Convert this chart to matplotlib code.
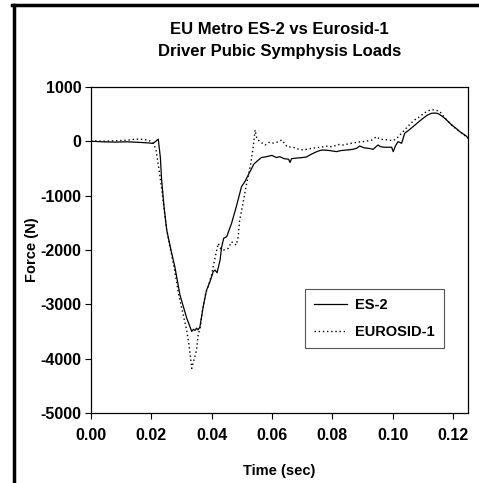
import matplotlib
matplotlib.use("Agg")
import matplotlib.pyplot as plt
from matplotlib.lines import Line2D

plt.rcParams['font.family'] = ['Liberation Sans', 'DejaVu Sans']
plt.rcParams['font.weight'] = 'bold'
plt.rcParams['axes.unicode_minus'] = False

# ES-2 (solid)
es2_t = [0.000, 0.004, 0.008, 0.012, 0.016, 0.019, 0.0205, 0.0215, 0.0223, 0.0230,
         0.0234, 0.0242, 0.0251, 0.0265, 0.0278, 0.0295, 0.0317, 0.0334, 0.0340, 0.0345,
         0.0350, 0.0355, 0.0361, 0.0372, 0.0383, 0.0394, 0.0400, 0.0405, 0.0411, 0.0418,
         0.0428, 0.0433, 0.0440, 0.0450, 0.0466, 0.0482, 0.0499, 0.0510, 0.0527, 0.0540,
         0.0555, 0.0565, 0.0582, 0.0600, 0.0615, 0.0626, 0.0640, 0.0655, 0.0660, 0.0665,
         0.0680, 0.0700, 0.0714, 0.0730, 0.0745, 0.0759, 0.0770, 0.0790, 0.0814, 0.0830,
         0.0850, 0.0869, 0.0880, 0.0891, 0.0905, 0.0920, 0.0936, 0.0945, 0.0952, 0.0960,
         0.0974, 0.0997, 0.1002, 0.1010, 0.1018, 0.1030, 0.1040, 0.1055, 0.1068, 0.1085,
         0.1101, 0.1115, 0.1129, 0.1140, 0.1151, 0.1162, 0.1173, 0.1185, 0.1196, 0.1210,
         0.1223, 0.1244, 0.1250]
es2_f = [0, -10, -15, -10, -20, -30, -40, 0, 40, -300,
         -700, -1200, -1630, -2000, -2310, -2830, -3250, -3500, -3460, -3480,
         -3440, -3470, -3420, -3045, -2740, -2590, -2490, -2400, -2370, -2420,
         -2185, -1950, -1785, -1755, -1510, -1200, -835, -745, -560, -420,
         -345, -300, -283, -260, -300, -283, -320, -330, -390, -320,
         -310, -300, -290, -240, -200, -170, -160, -170, -190, -170,
         -160, -147, -130, -87, -120, -130, -147, -100, -68, -100,
         -110, -110, -190, -80, -7, -37, 147, 210, 270, 350,
         423, 480, 515, 520, 510, 470, 423, 360, 300, 240,
         177, 98, 60]

# EUROSID-1 (dotted)
eu_t = [0.000, 0.004, 0.008, 0.012, 0.015, 0.017, 0.019, 0.0205, 0.0215, 0.0225,
        0.0235, 0.0250, 0.0262, 0.0275, 0.0290, 0.0306, 0.0317, 0.0325, 0.0334, 0.0340,
        0.0345, 0.0350, 0.0356, 0.0361, 0.0370, 0.0380, 0.0390, 0.0400, 0.0405, 0.0415,
        0.0422, 0.0430, 0.0440, 0.0455, 0.0466, 0.0482, 0.0488, 0.0493, 0.0504, 0.0516,
        0.0521, 0.0530, 0.0538, 0.0544, 0.0550, 0.0560, 0.0577, 0.0590, 0.0600, 0.0615,
        0.0633, 0.0650, 0.0670, 0.0685, 0.0704, 0.0720, 0.0740, 0.0760, 0.0780, 0.0800,
        0.0820, 0.0836, 0.0860, 0.0880, 0.0902, 0.0930, 0.0947, 0.0958, 0.0975, 0.0990,
        0.1002, 0.1015, 0.1025, 0.1040, 0.1060, 0.1075, 0.1090, 0.1105, 0.1124, 0.1140,
        0.1157, 0.1170, 0.1190, 0.1210, 0.1230, 0.1250]
eu_f = [10, 0, 10, 20, 40, 35, 20, -20, -150, -500,
        -900, -1600, -1950, -2300, -2800, -3200, -3470, -3750, -4180, -4050,
        -3950, -3840, -3530, -3470, -3100, -2800, -2650, -2450, -2310, -2050,
        -1880, -1980, -2000, -1970, -1850, -1910, -1755, -1450, -1140, -775,
        -650, -400, -100, 208, 50, -7, -68, -20, -37, -20,
        24, -100, -110, -140, -160, -140, -125, -110, -90, -100,
        -60, -68, -40, -20, -7, 20, 85, 37, 30, 20,
        11, 60, 120, 208, 330, 400, 453, 520, 576, 580,
        545, 450, 330, 230, 150, 55]

x_ticks = [0.00, 0.02, 0.04, 0.06, 0.08, 0.10, 0.12]
y_ticks = [1000, 0, -1000, -2000, -3000, -4000, -5000]

fig = plt.figure(figsize=(4.79, 4.83), dpi=100)
ax = fig.add_axes([0.19, 0.145, 0.787, 0.675])

ax.plot(es2_t, es2_f, color='black', linewidth=0.9, label='ES-2')
ax.plot(eu_t, eu_f, color='black', linewidth=1.0, linestyle=(0, (1, 2)), label='EUROSID-1')

ax.set_xlim(0, 0.125)
ax.set_ylim(-5000, 1000)
ax.set_xticks(x_ticks)
ax.set_xticklabels(['%.2f' % v for v in x_ticks])
ax.set_yticks(y_ticks)
ax.tick_params(direction='out', length=4, width=0.8, labelsize=11.5)
ax.tick_params(axis='x', pad=7)
ax.tick_params(axis='y', pad=3)
for s in ax.spines.values():
    s.set_linewidth(0.9)

ax.set_title('EU Metro ES-2 vs Eurosid-1\nDriver Pubic Symphysis Loads',
             fontsize=12, fontweight='bold', pad=22, linespacing=1.6)
ax.set_xlabel('Time (sec)', fontsize=10.5, fontweight='bold', labelpad=15)
ax.set_ylabel('Force (N)', fontsize=10.5, fontweight='bold', labelpad=1)

leg = ax.legend(loc='lower left', bbox_to_anchor=(0.568, 0.199), borderaxespad=0,
                fancybox=False, framealpha=1, edgecolor='#555555', fontsize=10.5,
                handlelength=2.3, borderpad=0.6, labelspacing=0.9, handletextpad=0.55)
leg.get_frame().set_linewidth(0.8)

# thick page border on left and top
fig.add_artist(Line2D([13.5 / 479, 13.5 / 479], [0, 1 - 5 / 483], color='black', linewidth=2.5,
                      transform=fig.transFigure))
fig.add_artist(Line2D([12 / 479, 1], [1 - 5 / 483, 1 - 5 / 483], color='black', linewidth=2.5,
                      transform=fig.transFigure))

fig.savefig('out.png', dpi=100)
